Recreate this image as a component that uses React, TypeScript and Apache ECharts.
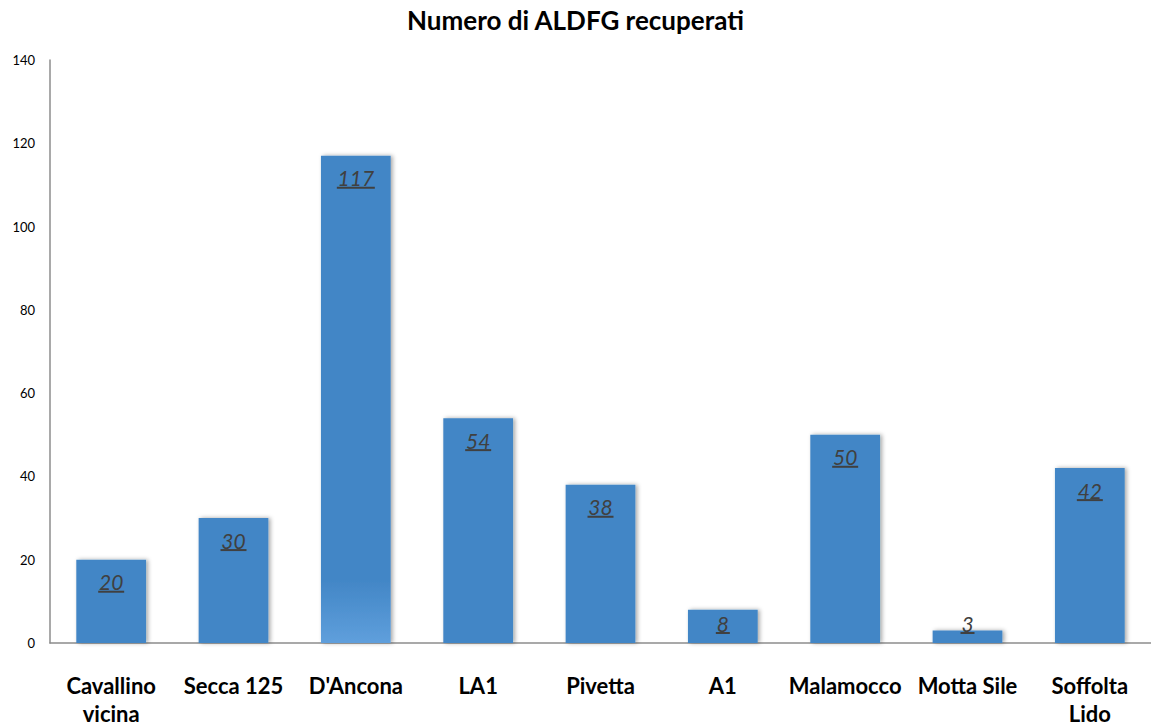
import React, { useEffect, useRef } from "react";
import * as echarts from "echarts";

const categories = [
  "Cavallino\nvicina",
  "Secca 125",
  "D'Ancona",
  "LA1",
  "Pivetta",
  "A1",
  "Malamocco",
  "Motta Sile",
  "Soffolta\nLido",
];
const values = [20, 30, 117, 54, 38, 8, 50, 3, 42];
const yTicks = { min: 0, max: 140, interval: 20 };
const title = "Numero di ALDFG recuperati";

const FONT = "Lato, 'Open Sans', sans-serif";
const BAR = "#4286c6";

export default function App() {
  const ref = useRef<HTMLDivElement>(null);
  useEffect(() => {
    if (!ref.current) return;
    const chart = echarts.init(ref.current, null, { renderer: "svg" });
    const barData = values.map((v, i) =>
      i === 2
        ? {
            value: v,
            itemStyle: {
              color: new echarts.graphic.LinearGradient(0, 0, 0, 1, [
                { offset: 0, color: BAR },
                { offset: 0.87, color: BAR },
                { offset: 1, color: "#5f9fdc" },
              ]),
            },
          }
        : v
    );
    chart.setOption({
      animation: false,
      backgroundColor: "#ffffff",
      title: {
        text: title,
        left: "center",
        top: 2,
        padding: 5,
        textStyle: { fontFamily: FONT, fontSize: 26, fontWeight: "bold", color: "#000" },
      },
      grid: { left: 50, top: 60, width: 1103, height: 586, containLabel: false },
      xAxis: {
        type: "category",
        data: categories,
        axisLine: { show: true, lineStyle: { color: "#8c8c8c", width: 1.5 } },
        axisTick: { show: false },
        axisLabel: {
          interval: 0,
          margin: 28,
          fontFamily: FONT,
          fontSize: 22,
          fontWeight: "bold",
          color: "#000",
          lineHeight: 28,
        },
      },
      yAxis: {
        type: "value",
        min: yTicks.min,
        max: yTicks.max,
        interval: yTicks.interval,
        axisLine: { show: true, lineStyle: { color: "#8c8c8c", width: 1.5 } },
        axisTick: { show: false },
        splitLine: { show: false },
        axisLabel: { margin: 15, fontFamily: FONT, fontSize: 13, color: "#000" },
      },
      series: [
        {
          type: "bar",
          data: barData,
          barWidth: "57%",
          itemStyle: {
            color: BAR,
            shadowColor: "rgba(0,0,0,0.35)",
            shadowBlur: 4,
            shadowOffsetX: 2,
          },
          z: 2,
        },
        {
          type: "custom",
          data: values.map((v, i) => [i, v]),
          z: 5,
          renderItem: (params: any, api: any) => {
            const i = api.value(0);
            const v = api.value(1);
            const top = api.coord([i, v]);
            const base = api.coord([i, 0]);
            const cx = top[0];
            const cy = Math.min(top[1] + 22, base[1] - 20);
            const txt = String(v);
            const w = txt.length * 12;
            return {
              type: "group",
              children: [
                {
                  type: "text",
                  style: {
                    text: txt,
                    x: cx,
                    y: cy,
                    align: "center",
                    verticalAlign: "middle",
                    font: `italic 21px ${FONT}`,
                    fill: "#404040",
                  },
                },
                {
                  type: "rect",
                  shape: { x: cx - w / 2 - 1, y: cy + 9, width: w + 2, height: 2 },
                  style: { fill: "#404040" },
                },
              ],
            };
          },
        },
      ],
    });
    return () => chart.dispose();
  }, []);
  return (
    <div
      ref={ref}
      style={{ position: "absolute", left: 0, top: 0, width: 1151, height: 727 }}
    />
  );
}
